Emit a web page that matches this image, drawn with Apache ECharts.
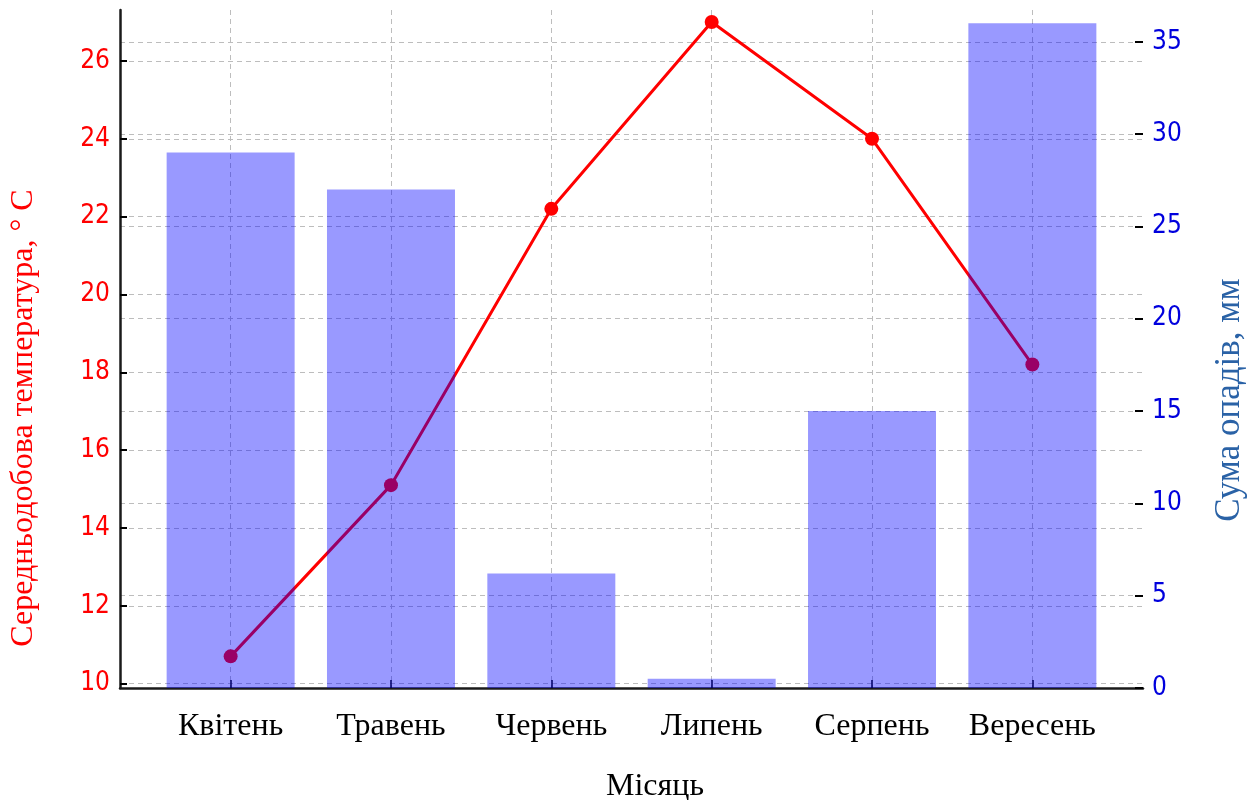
<!DOCTYPE html>
<html>
<head>
<meta charset="utf-8">
<script src="https://cdn.jsdelivr.net/npm/echarts@6/dist/echarts.min.js"></script>
<style>
html,body{margin:0;padding:0;background:#fff;}
#chart{width:1258px;height:800px;}
</style>
</head>
<body>
<div id="chart"></div>
<script>
// ---- data ----
const months = ['Квітень', 'Травень', 'Червень', 'Липень', 'Серпень', 'Вересень'];
const temperature = [10.7, 15.1, 22.2, 27.0, 24.0, 18.2];
const precipitation = [29.0, 27.0, 6.2, 0.5, 15.0, 36.0];
const tempTicks = [10, 12, 14, 16, 18, 20, 22, 24, 26];
const precipTicks = [0, 5, 10, 15, 20, 25, 30, 35];
const xTitle = 'Місяць';
const yLeftTitle = 'Середньодобова температура, ° С';
const yRightTitle = 'Сума опадів, мм';

const idx = months.map((m, i) => i);
const lineData = temperature.map((v, i) => [i, v]);
const barData = precipitation.map((v, i) => [i, v]);

const chart = echarts.init(document.getElementById('chart'), null, {renderer: 'canvas'});
const gridColor = '#bdbdbd';
const tickFont = "'DejaVu Sans Condensed', 'DejaVu Sans', sans-serif";
const serif = "'Liberation Serif', 'Times New Roman', serif";

chart.setOption({
  animation: false,
  backgroundColor: '#ffffff',
  grid: {left: 120, right: 115, top: 10, bottom: 112, containLabel: false},
  xAxis: {
    type: 'value',
    min: -0.69, max: 5.69,
    axisLine: {show: true, onZero: false, lineStyle: {color: '#1a1a1a', width: 2.5}},
    axisTick: {show: true, inside: true, length: 8, customValues: idx, lineStyle: {color: '#000', width: 1.5}},
    axisLabel: {show: true, customValues: idx, formatter: v => months[Math.round(v)], color: '#000',
      fontFamily: serif, fontSize: 32, margin: 23},
    splitLine: {show: true, lineStyle: {color: gridColor, type: [5, 4], width: 1}}
  },
  yAxis: [
    {
      type: 'value', position: 'left',
      min: 9.887, max: 27.31,
      axisLine: {show: true, onZero: false, lineStyle: {color: '#1a1a1a', width: 2.5}},
      axisTick: {show: true, inside: true, length: 7, customValues: tempTicks, lineStyle: {color: '#000', width: 2}},
      axisLabel: {customValues: tempTicks, color: '#ff0000', fontFamily: tickFont, fontSize: 26, margin: 10},
      splitLine: {show: true, lineStyle: {color: gridColor, type: [5, 4], width: 1}}
    },
    {
      type: 'value', position: 'right',
      min: 0, max: 36.72,
      axisLine: {show: false, onZero: false},
      axisTick: {show: true, inside: true, length: 8, customValues: precipTicks, lineStyle: {color: '#000', width: 2}},
      axisLabel: {customValues: precipTicks, color: '#0000dd', fontFamily: tickFont, fontSize: 26, margin: 9},
      splitLine: {show: true, lineStyle: {color: gridColor, type: [5, 4], width: 1}}
    }
  ],
  series: [
    {
      type: 'line', yAxisIndex: 0, data: lineData, z: 2,
      symbol: 'circle', symbolSize: 14,
      lineStyle: {color: '#ff0000', width: 3},
      itemStyle: {color: '#ff0000'}
    },
    {
      type: 'bar', yAxisIndex: 1, data: barData, z: 3,
      barWidth: 128,
      itemStyle: {color: 'rgba(0,0,255,0.4)'}
    }
  ],
  graphic: [
    {type: 'text', x: 24, y: 418, rotation: Math.PI / 2,
      style: {text: yLeftTitle, fill: '#ff0000', font: "32px " + serif, align: 'center', verticalAlign: 'middle'}},
    {type: 'text', x: 1230, y: 400, rotation: Math.PI / 2,
      style: {text: yRightTitle, fill: '#2a62a6', font: "35px " + serif, align: 'center', verticalAlign: 'middle'}},
    {type: 'text', x: 655, y: 787,
      style: {text: xTitle, fill: '#000', font: "32px " + serif, align: 'center', verticalAlign: 'middle'}}
  ]
});
</script>
</body>
</html>
